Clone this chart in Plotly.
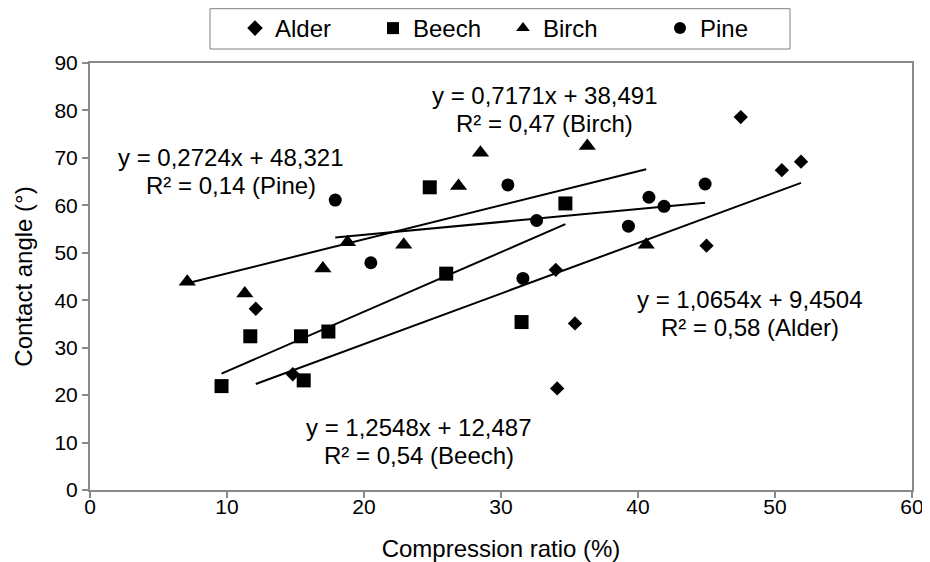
import plotly.graph_objects as go

# ---- data ----
alder_x = [12.1, 14.8, 34.0, 34.1, 35.4, 45.0, 47.5, 50.5, 51.9]
alder_y = [38.2, 24.4, 46.4, 21.4, 35.1, 51.5, 78.6, 67.4, 69.2]

beech_x = [9.6, 11.7, 15.4, 15.6, 17.4, 24.8, 26.0, 31.5, 34.7]
beech_y = [21.9, 32.4, 32.4, 23.1, 33.4, 63.8, 45.6, 35.4, 60.4]

birch_x = [7.1, 11.3, 17.0, 18.8, 22.9, 26.9, 28.5, 36.3, 40.6]
birch_y = [43.9, 41.4, 46.7, 52.2, 51.7, 64.1, 71.1, 72.5, 51.7]

pine_x = [17.9, 20.5, 30.5, 31.6, 32.6, 39.3, 40.8, 41.9, 44.9]
pine_y = [61.1, 47.9, 64.3, 44.6, 56.8, 55.6, 61.7, 59.8, 64.5]

species = ["Alder", "Beech", "Birch", "Pine"]
slopes = [1.0654, 1.2548, 0.7171, 0.2724]
intercepts = [9.4504, 12.487, 38.491, 48.321]
r2_values = ["0,58", "0,54", "0,47", "0,14"]
eq_texts = ["y = 1,0654x + 9,4504", "y = 1,2548x + 12,487",
            "y = 0,7171x + 38,491", "y = 0,2724x + 48,321"]

x_ticks = [0, 10, 20, 30, 40, 50, 60]
y_ticks = [0, 10, 20, 30, 40, 50, 60, 70, 80, 90]

FONT = "Liberation Sans, Arial, sans-serif"
series_x = [alder_x, beech_x, birch_x, pine_x]
series_y = [alder_y, beech_y, birch_y, pine_y]
symbols = ["diamond", "square", "triangle-up", "circle"]
sizes = [11, 14, 15, 13]
legend_widths = [93, 85, 112, 60]

# page body adds an 8px offset; figure is sized to fit the 930x562 window
W, H = 922, 554
L, R, T, B = 82, 18, 55, 72
PW, PH = W - L - R, H - T - B


def px_x(px):
    return (px - 8 - L) / PW


def px_y(py):
    return 1 + (T - (py - 8)) / PH


fig = go.Figure()

# trendlines
for name, xs, m, b in zip(species, series_x, slopes, intercepts):
    x0, x1 = min(xs), max(xs)
    fig.add_trace(go.Scatter(
        x=[x0, x1], y=[m * x0 + b, m * x1 + b], mode="lines",
        line=dict(color="black", width=2), showlegend=False, hoverinfo="skip"))

# markers
for name, xs, ys, sym, sz, lw in zip(species, series_x, series_y, symbols, sizes, legend_widths):
    fig.add_trace(go.Scatter(
        x=xs, y=ys, mode="markers", name=name,
        marker=dict(symbol=sym, size=sz, color="black", line=dict(width=0)),
        legendwidth=lw))

# equation annotations (centre positions in data units), two lines each
ann_pos = {"Alder": (48.2, 37.3), "Beech": (24.0, 10.3),
           "Birch": (33.2, 80.3), "Pine": (10.3, 67.1)}
for name, eq, r2 in zip(species, eq_texts, r2_values):
    ax, ay = ann_pos[name]
    for line_text, shift in ((eq, 14), (f"R² = {r2} ({name})", -14)):
        fig.add_annotation(
            x=ax, y=ay, xref="x", yref="y", yshift=shift, showarrow=False,
            text=line_text, align="center",
            font=dict(family=FONT, size=24, color="black"))

axis_common = dict(
    showgrid=False, zeroline=False, showline=True, linecolor="#8a8a8a",
    linewidth=2, mirror=True, ticks="outside", ticklen=6, tickwidth=1.5,
    tickcolor="#8a8a8a", tickfont=dict(family=FONT, size=21, color="black"))

fig.update_xaxes(range=[0, 60], tickvals=x_ticks, ticklabelstandoff=-9,
                 title=dict(text="Compression ratio (%)", standoff=23,
                            font=dict(family=FONT, size=24, color="black")),
                 **axis_common)
fig.update_yaxes(range=[0, 90], tickvals=y_ticks,
                 title=dict(text="Contact angle (°)", standoff=15,
                            font=dict(family=FONT, size=24, color="black")),
                 **axis_common)

# legend frame
fig.add_shape(type="rect", xref="paper", yref="paper",
              x0=px_x(210), x1=px_x(790), y0=px_y(49), y1=px_y(8.7),
              line=dict(color="#808080", width=1), fillcolor="rgba(0,0,0,0)")

fig.update_layout(
    width=W, height=H,
    margin=dict(l=L, r=R, t=T, b=B, autoexpand=False),
    paper_bgcolor="white", plot_bgcolor="white",
    font=dict(family=FONT, color="black"),
    legend=dict(orientation="h", x=px_x(235), xanchor="left",
                y=px_y(6), yanchor="top",
                bgcolor="rgba(0,0,0,0)", borderwidth=0,
                font=dict(family=FONT, size=24, color="black"),
                itemsizing="constant"),
)

fig.write_html("out.html")
